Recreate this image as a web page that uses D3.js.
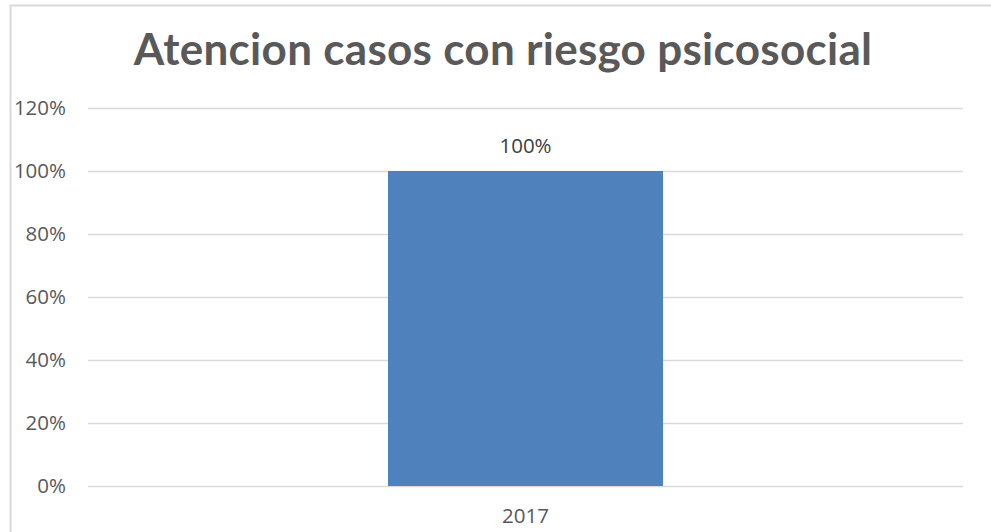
<!DOCTYPE html>
<html><head><meta charset="utf-8">
<script src="https://cdn.jsdelivr.net/npm/d3@7"></script>
<style>
html,body{margin:0;padding:0;background:#fff;}
svg{display:block;}
</style></head>
<body>
<svg id="chart" width="991" height="532"></svg>
<script>
const title = "Atencion casos con riesgo psicosocial";
const categories = ["2017"];
const values = [1.00];
const yTicks = [0, 0.2, 0.4, 0.6, 0.8, 1.0, 1.2];

const svg = d3.select("#chart");
const W = 991, H = 532;
const plot = {left: 88, right: 963, top: 108, bottom: 486};
const textColor = "#595959", gridColor = "#d9d9d9", barColor = "#4f81bd";
const font = "'Open Sans', 'Liberation Sans', sans-serif";

// outer chart border
svg.append("rect").attr("x", 10.5).attr("y", 5.5).attr("width", 995).attr("height", 560)
  .attr("fill", "#fff").attr("stroke", gridColor).attr("stroke-width", 2);

const x = d3.scaleBand().domain(categories).range([plot.left, plot.right]).paddingInner(0.5217).paddingOuter(0.5217);
const y = d3.scaleLinear().domain([0, 1.2]).range([plot.bottom, plot.top]);

// grid
svg.append("g").selectAll("line").data(yTicks).join("line")
  .attr("x1", plot.left).attr("x2", plot.right)
  .attr("y1", d => Math.round(y(d)) + 0.5).attr("y2", d => Math.round(y(d)) + 0.5)
  .attr("stroke", gridColor).attr("stroke-width", 1.5);

// y axis labels
const yAxis = d3.axisLeft(y).tickValues(yTicks).tickFormat(d3.format(".0%")).tickSize(0).tickPadding(22);
const ya = svg.append("g").attr("transform", `translate(${plot.left},0)`).call(yAxis);
ya.select(".domain").remove();
ya.selectAll("text").attr("fill", textColor).style("font-family", font).style("font-size", "20.5px");

// bars
svg.append("g").selectAll("rect").data(categories).join("rect")
  .attr("x", d => x(d)).attr("width", x.bandwidth())
  .attr("y", (d, i) => y(values[i])).attr("height", (d, i) => y(0) - y(values[i]))
  .attr("fill", barColor);

// data labels
svg.append("g").selectAll("text").data(categories).join("text")
  .attr("x", d => x(d) + x.bandwidth() / 2)
  .attr("y", (d, i) => y(values[i]) - 18)
  .attr("text-anchor", "middle").attr("fill", "#404040")
  .style("font-family", font).style("font-size", "20.5px")
  .text((d, i) => d3.format(".0%")(values[i]));

// x axis
const xAxis = d3.axisBottom(x).tickSize(0).tickPadding(22);
const xa = svg.append("g").attr("transform", `translate(0,${plot.bottom})`).call(xAxis);
xa.select(".domain").remove();
xa.selectAll("text").attr("fill", textColor).style("font-family", font).style("font-size", "20.5px");

// title
const t = svg.append("text").attr("x", 503).attr("y", 65).attr("text-anchor", "middle")
  .attr("fill", textColor).style("font-family", "Lato, 'Open Sans', sans-serif").style("font-weight", "bold")
  .style("font-size", "41px").text(title);
const tw = t.node().getComputedTextLength();
const fs = Math.min(44, Math.max(34, 41 * 734 / tw));
t.style("font-size", fs + "px").style("letter-spacing", "0.3px");
</script>
</body></html>
